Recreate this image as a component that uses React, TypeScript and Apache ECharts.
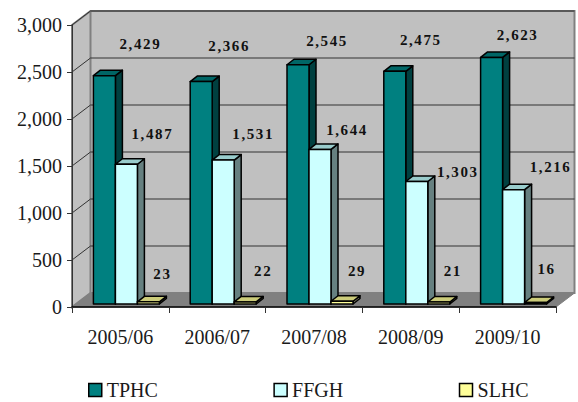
import React, { useEffect, useRef } from "react";
import * as echarts from "echarts";

const categories = ["2005/06", "2006/07", "2007/08", "2008/09", "2009/10"];
const tphc = [2429, 2366, 2545, 2475, 2623];
const ffgh = [1487, 1531, 1644, 1303, 1216];
const slhc = [23, 22, 29, 21, 16];
const yTicks = [500, 1000, 1500, 2000, 2500, 3000];

// Hand-placed value labels: [dx from band centre, dy from the bar's top edge]
const tphcLabelShift = [[20, -32], [12, -36], [13, -24], [10, -31], [10, -22]];
const ffghLabelShift = [[32, -30], [36, -26], [33, -19], [47, -10], [43, -23]];
const slhcLabelShift = [[42, -28], [46, -31], [43, -30], [42, -31], [39, -33]];

const FONT = "'Liberation Serif', serif";
const WALL_DX = 18.5;
const WALL_DY = -14;
const BAR_W = 22;
const DEPTH_DX = 7;
const DEPTH_DY = -5.5;
const FLOOR_INSET = 3;

function wallItem(params: any) {
  const c = params.coordSys;
  const l = c.x, r = c.x + c.width, t = c.y, b = c.y + c.height;
  const edge = { stroke: "#808080", lineWidth: 2 };
  return {
    type: "group",
    children: [
      { type: "polygon", shape: { points: [[l, t], [l + WALL_DX, t + WALL_DY], [r + WALL_DX, t + WALL_DY], [r + WALL_DX, b + WALL_DY], [l + WALL_DX, b + WALL_DY], [l, b]] }, style: { fill: "#c0c0c0", ...edge } },
      { type: "polygon", shape: { points: [[l, b], [l + WALL_DX, b + WALL_DY], [r + WALL_DX, b + WALL_DY], [r, b]] }, style: { fill: "#808080", stroke: "#808080", lineWidth: 1 } },
      { type: "line", shape: { x1: l + WALL_DX, y1: t + WALL_DY, x2: l + WALL_DX, y2: b + WALL_DY }, style: edge },
    ],
  };
}

function gridLineItem(params: any, api: any) {
  const c = params.coordSys;
  const y = api.coord([0, api.value(1)])[1];
  const line = { stroke: "#333333", lineWidth: 1 };
  return {
    type: "group",
    children: [
      { type: "line", shape: { x1: c.x, y1: y, x2: c.x + WALL_DX, y2: y + WALL_DY }, style: line },
      { type: "line", shape: { x1: c.x + WALL_DX, y1: y + WALL_DY, x2: c.x + c.width + WALL_DX, y2: y + WALL_DY }, style: line },
    ],
  };
}

function barRenderer(slot: number, front: string, top: string, side: string) {
  return (_params: any, api: any) => {
    const [cx, vy] = api.coord([api.value(0), api.value(1)]);
    const [, zy] = api.coord([api.value(0), 0]);
    const l = cx - 27 + slot * BAR_W;
    const r = l + BAR_W;
    const by = zy - FLOOR_INSET;
    const ty = vy - FLOOR_INSET;
    const edge = { stroke: "#000000", lineWidth: 1.5, lineJoin: "round" };
    return {
      type: "group",
      children: [
        { type: "polygon", shape: { points: [[r, ty], [r + DEPTH_DX, ty + DEPTH_DY], [r + DEPTH_DX, by + DEPTH_DY], [r, by]] }, style: { fill: side, ...edge } },
        { type: "polygon", shape: { points: [[l, ty], [l + DEPTH_DX, ty + DEPTH_DY], [r + DEPTH_DX, ty + DEPTH_DY], [r, ty]] }, style: { fill: top, ...edge } },
        { type: "rect", shape: { x: l, y: ty, width: BAR_W, height: by - ty }, style: { fill: front, ...edge } },
      ],
    };
  };
}

function labelRenderer(slot: number, shifts: number[][]) {
  return (params: any, api: any) => {
    const [cx, vy] = api.coord([api.value(0), api.value(1)]);
    const [dx, dy] = shifts[params.dataIndex];
    return {
      type: "text",
      x: cx + dx,
      y: vy - FLOOR_INSET + dy,
      style: {
        text: Number(api.value(1)).toLocaleString("en-US"),
        fontFamily: FONT,
        fontSize: 15,
        fontWeight: "bold",
        fill: "#111111",
        align: "center",
        verticalAlign: "middle",
      },
    };
  };
}

const points = (values: number[]) => values.map((v, i) => [i, v]);

export default function App() {
  const ref = useRef<HTMLDivElement>(null);

  useEffect(() => {
    const chart = echarts.init(ref.current!, undefined, { renderer: "svg" });
    const barSeries = (name: string, values: number[], slot: number, front: string, top: string, side: string) => ({
      type: "custom",
      name,
      z: 3 + slot,
      silent: true,
      itemStyle: { color: front },
      data: points(values),
      encode: { x: 0, y: 1 },
      renderItem: barRenderer(slot, front, top, side),
    });
    const labelSeries = (values: number[], slot: number, shifts: number[][]) => ({
      type: "custom",
      z: 8,
      silent: true,
      data: points(values),
      encode: { x: 0, y: 1 },
      renderItem: labelRenderer(slot, shifts),
    });
    const axisText = { color: "#1a1a1a", fontFamily: FONT, fontSize: 20 };
    chart.setOption({
      animation: false,
      backgroundColor: "#ffffff",
      textStyle: { fontFamily: FONT },
      grid: { left: 72, top: 25, width: 484, height: 282, containLabel: false },
      legend: {
        left: 83,
        top: 373,
        icon: "rect",
        itemWidth: 13,
        itemHeight: 13,
        itemGap: 115.5,
        data: ["TPHC", "FFGH", "SLHC"],
        itemStyle: { borderColor: "#000000", borderWidth: 1.5 },
        textStyle: { ...axisText, lineHeight: 24 },
      },
      xAxis: {
        type: "category",
        data: categories,
        z: 10,
        axisLine: { lineStyle: { color: "#000000", width: 1.5 } },
        axisTick: { show: true, length: 6, lineStyle: { color: "#333333" } },
        axisLabel: { ...axisText, margin: 20 },
        splitLine: { show: false },
      },
      yAxis: {
        type: "value",
        min: 0,
        max: 3000,
        interval: 500,
        z: 10,
        axisLine: { show: true, lineStyle: { color: "#333333", width: 1 } },
        axisTick: { show: true, length: 5, lineStyle: { color: "#333333" } },
        axisLabel: { ...axisText, margin: 10, formatter: (v: number) => v.toLocaleString("en-US") },
        splitLine: { show: false },
      },
      series: [
        { type: "custom", z: 1, silent: true, data: [[0, 0]], encode: { x: 0, y: 1 }, renderItem: wallItem },
        { type: "custom", z: 2, silent: true, data: yTicks.map((t) => [0, t]), encode: { x: 0, y: 1 }, renderItem: gridLineItem },
        barSeries("TPHC", tphc, 0, "#008080", "#006666", "#004040"),
        barSeries("FFGH", ffgh, 1, "#ccffff", "#99cccc", "#668080"),
        barSeries("SLHC", slhc, 2, "#ffff99", "#cccc7a", "#808066"),
        labelSeries(tphc, 0, tphcLabelShift),
        labelSeries(ffgh, 1, ffghLabelShift),
        labelSeries(slhc, 2, slhcLabelShift),
      ],
    });
    return () => chart.dispose();
  }, []);

  return (
    <>
      <style>{`body{margin:0} svg text[style*="bold"]{letter-spacing:1.6px}`}</style>
      <div ref={ref} style={{ position: "absolute", left: 0, top: 0, width: 578, height: 402 }} />
    </>
  );
}
